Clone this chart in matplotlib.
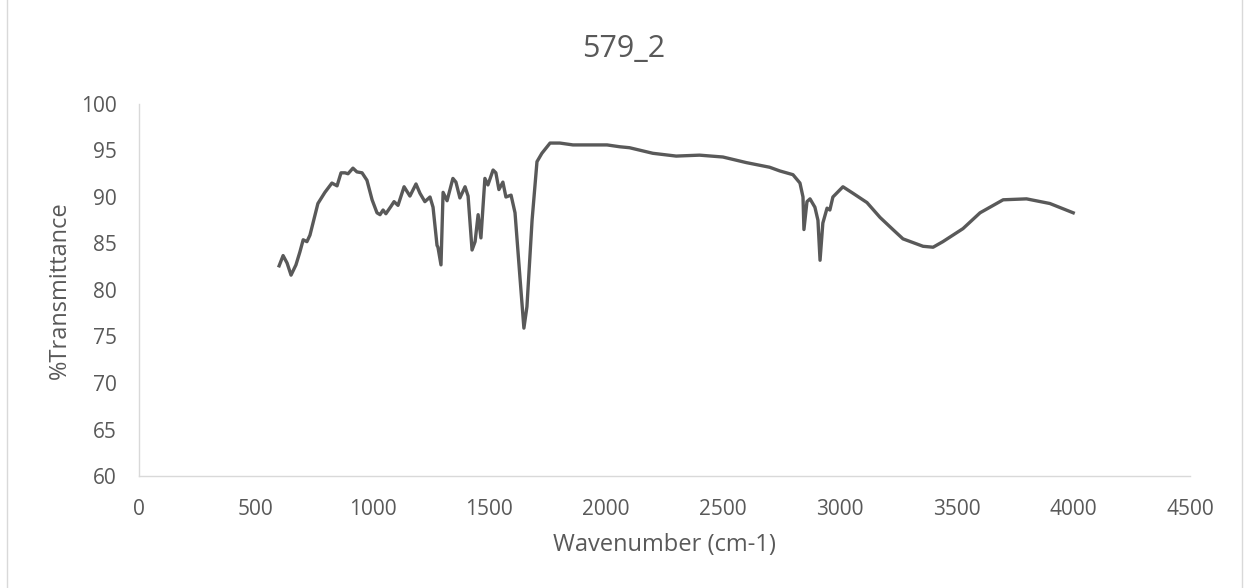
import matplotlib.pyplot as plt
from matplotlib.lines import Line2D

plt.rcParams['font.family'] = ['Open Sans', 'DejaVu Sans']

# FTIR spectrum
wavenumber = [600, 617, 634, 651, 672, 689, 703, 719, 732, 745, 766, 796, 826, 848,
              865, 882, 895, 916, 933, 955, 976, 998, 1019, 1032, 1045, 1057, 1079,
              1092, 1109, 1135, 1160, 1186, 1203, 1224, 1246, 1259, 1276, 1280, 1293,
              1302, 1319, 1344, 1357, 1374, 1396, 1409, 1426, 1439, 1452, 1464, 1481,
              1494, 1516, 1528, 1541, 1558, 1571, 1593, 1610, 1631, 1648, 1661, 1683,
              1704, 1725, 1760, 1802, 1858, 1931, 2004, 2059, 2100, 2200, 2300, 2400,
              2500, 2600, 2700, 2744, 2800, 2830, 2843, 2847, 2860, 2873, 2894, 2907,
              2916, 2928, 2946, 2958, 2971, 3014, 3057, 3117, 3173, 3228, 3271, 3314,
              3357, 3400, 3442, 3528, 3601, 3700, 3800, 3900, 4000]
transmittance = [82.6, 83.7, 82.9, 81.6, 82.7, 84.1, 85.4, 85.2, 85.9, 87.2, 89.3, 90.5,
                 91.5, 91.2, 92.6, 92.6, 92.5, 93.1, 92.7, 92.6, 91.8, 89.7, 88.3, 88.1,
                 88.6, 88.2, 89.0, 89.5, 89.1, 91.1, 90.1, 91.4, 90.4, 89.5, 90.0, 88.9,
                 84.8, 84.6, 82.7, 90.5, 89.6, 92.0, 91.6, 89.9, 91.1, 90.1, 84.3, 85.2,
                 88.1, 85.6, 92.0, 91.3, 92.9, 92.6, 90.8, 91.6, 90.0, 90.2, 88.3, 81.4,
                 75.9, 78.2, 87.5, 93.8, 94.7, 95.8, 95.8, 95.6, 95.6, 95.6, 95.4, 95.3,
                 94.7, 94.4, 94.5, 94.3, 93.7, 93.2, 92.8, 92.4, 91.5, 90.0, 86.5, 89.5,
                 89.8, 88.9, 87.5, 83.2, 87.2, 88.8, 88.6, 90.0, 91.1, 90.4, 89.4, 87.8,
                 86.5, 85.5, 85.1, 84.7, 84.6, 85.2, 86.6, 88.3, 89.7, 89.8, 89.3, 88.3]

W, H = 1245, 588
fig = plt.figure(figsize=(W / 100, H / 100), dpi=100)
ax = fig.add_axes([139 / W, 1 - 476 / H, 1051 / W, 372 / H])

ax.plot(wavenumber, transmittance, color='#595959', linewidth=2.4)

ax.set_xlim(0, 4500)
ax.set_ylim(60, 100)
ax.set_xticks(range(0, 4501, 500))
ax.set_yticks(range(60, 101, 5))

for side in ['top', 'right']:
    ax.spines[side].set_visible(False)
for side in ['left', 'bottom']:
    ax.spines[side].set_color('#d9d9d9')
    ax.spines[side].set_linewidth(1)
ax.tick_params(axis='x', length=0, labelsize=15, colors='#595959', pad=16.5)
ax.tick_params(axis='y', length=0, labelsize=15, colors='#595959', pad=16)

fig.text(664.5 / W, 1 - 551 / H, 'Wavenumber (cm-1)', ha='center', va='baseline',
         fontsize=17, color='#595959')
fig.text(66 / W, 0.5 - (290 - H / 2) / H, '%Transmittance', ha='center', va='baseline',
         rotation=90, rotation_mode='anchor', fontsize=17, color='#595959')
fig.text(624 / W, 1 - 57 / H, '579_2', ha='center', va='baseline', fontsize=22,
         color='#595959')

# chart-area border (left and right edges show in the reference)
for xb in [6.5, 1241.5]:
    fig.lines.append(Line2D([xb / W, xb / W], [0, 1], transform=fig.transFigure,
                            color='#d9d9d9', linewidth=1))

fig.savefig('out.png', dpi=100)
